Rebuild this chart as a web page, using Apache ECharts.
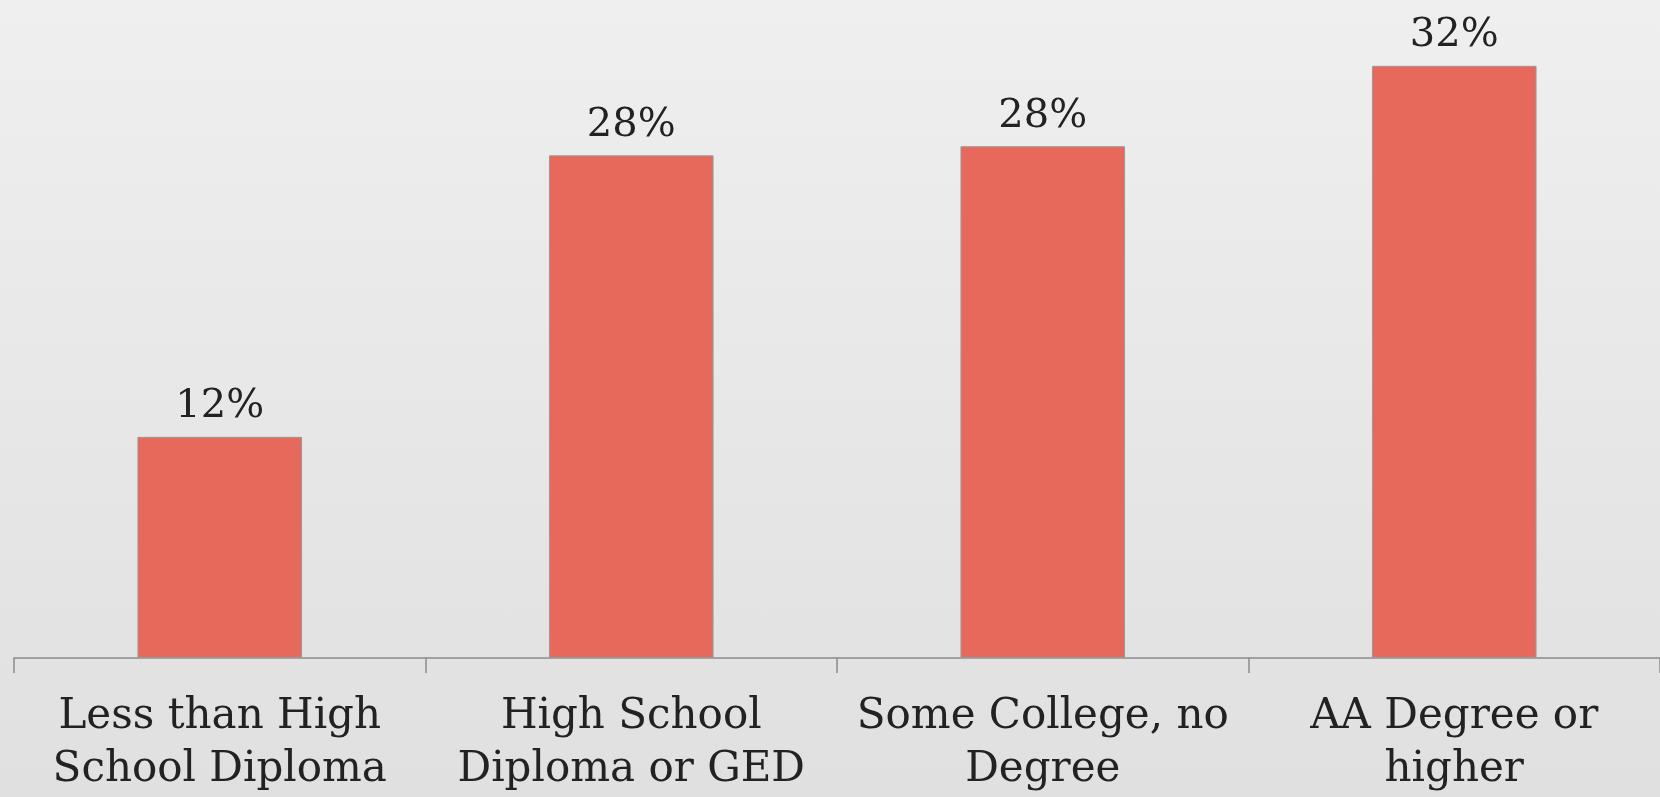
<!DOCTYPE html>
<html>
<head>
<meta charset="utf-8">
<script src="https://cdn.jsdelivr.net/npm/echarts@6/dist/echarts.min.js"></script>
<style>
html,body{margin:0;padding:0;width:1660px;height:797px;overflow:hidden;background:linear-gradient(#efefef,#e0e0e0);}
#c{width:1660px;height:797px;}
</style>
</head>
<body>
<div id="c"></div>
<script>
const categories = ["Less than High\nSchool Diploma", "High School\nDiploma or GED", "Some College, no\nDegree", "AA Degree or\nhigher"];
const values = [12.1, 27.5, 28.0, 32.4];

const chart = echarts.init(document.getElementById('c'), null, {renderer: 'canvas'});
chart.setOption({
  backgroundColor: 'transparent',
  animation: false,
  grid: {left: 14, right: -4, top: 0, bottom: 139, containLabel: false},
  xAxis: {
    type: 'category',
    data: categories,
    axisLine: {lineStyle: {color: '#8c8c8c', width: 1.5}},
    axisTick: {show: true, length: 15, lineStyle: {color: '#8c8c8c', width: 1.5}},
    axisLabel: {
      interval: 0,
      margin: 33,
      color: '#222',
      fontFamily: '"DejaVu Serif", "Liberation Serif", serif',
      fontSize: 42,
      lineHeight: 53
    }
  },
  yAxis: {type: 'value', min: 0, max: 36, show: false},
  series: [{
    type: 'bar',
    data: values,
    barWidth: '40%',
    itemStyle: {color: '#E7695B', borderColor: '#9a9a9a', borderWidth: 1},
    label: {
      show: true,
      position: 'top',
      distance: 10,
      formatter: p => Math.round(p.value) + '%',
      color: '#222',
      fontFamily: '"DejaVu Serif", "Liberation Serif", serif',
      fontSize: 40
    }
  }]
});
</script>
</body>
</html>
